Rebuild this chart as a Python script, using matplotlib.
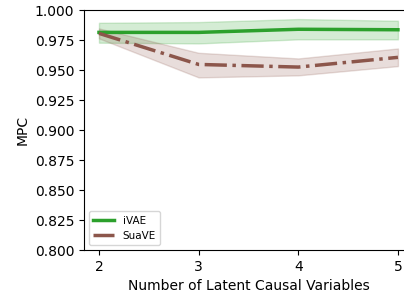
import matplotlib
matplotlib.use("Agg")
import matplotlib.pyplot as plt

x = [2, 3, 4, 5]
ivae_mean = [0.9814, 0.9814, 0.9840, 0.9836]
ivae_low = [0.9728, 0.9722, 0.9756, 0.9756]
ivae_high = [0.9894, 0.9900, 0.9925, 0.9911]
suave_mean = [0.9806, 0.9547, 0.9525, 0.9606]
suave_low = [0.9764, 0.9439, 0.9456, 0.9533]
suave_high = [0.9847, 0.9644, 0.9597, 0.9680]

fig = plt.figure(figsize=(4.04, 2.96), dpi=100)
ax = fig.add_axes([0.208, 0.155, 0.814, 0.811])

ax.plot(x, ivae_mean, color='#2ca02c', lw=2.5, label='iVAE')
ax.fill_between(x, ivae_low, ivae_high, color='#2ca02c', alpha=0.2)
ax.plot(x, suave_mean, color='#8c564b', lw=2.5, ls='-.', label='SuaVE')
ax.fill_between(x, suave_low, suave_high, color='#8c564b', alpha=0.2)

ax.set_ylim(0.8, 1.0)
ax.set_xticks(x)
ax.set_xlabel('Number of Latent Causal Variables', fontsize=10)
ax.set_ylabel('MPC', fontsize=10)
ax.tick_params(labelsize=10)
ax.legend(loc='lower left', fontsize=7.5)

fig.savefig('out.png', dpi=100)
